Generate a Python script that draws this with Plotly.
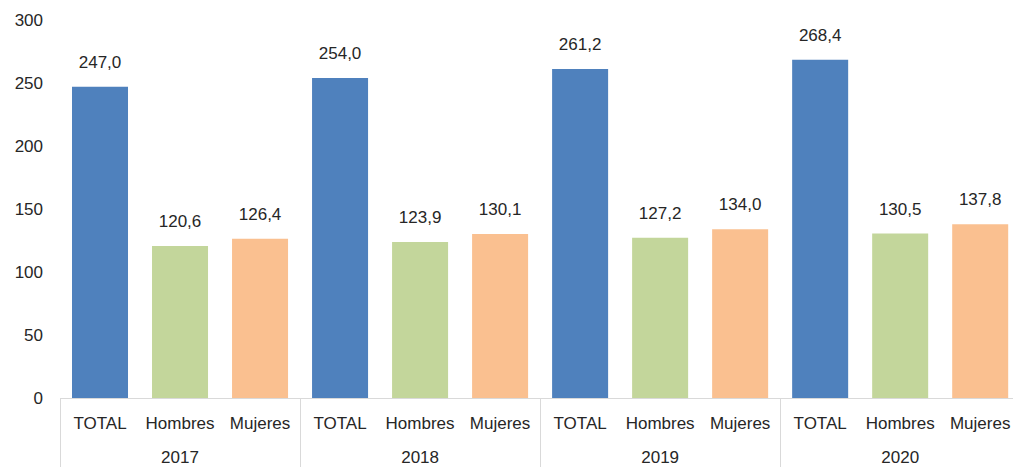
import plotly.graph_objects as go

years = ["2017", "2018", "2019", "2020"]
groups = ["TOTAL", "Hombres", "Mujeres"]
total = [247.0, 254.0, 261.2, 268.4]
hombres = [120.6, 123.9, 127.2, 130.5]
mujeres = [126.4, 130.1, 134.0, 137.8]
colors = {"TOTAL": "#4F81BD", "Hombres": "#C3D69B", "Mujeres": "#FAC090"}

series = {"TOTAL": total, "Hombres": hombres, "Mujeres": mujeres}

xy, xc, yv, cv = [], [], [], []
for i, yr in enumerate(years):
    for g in groups:
        xy.append("<br>" + yr)
        xc.append(g)
        yv.append(series[g][i])
        cv.append(colors[g])

FONT = "Liberation Sans, Arial, sans-serif"
TXT = "#262626"
FS = 17

fig = go.Figure()
fig.add_trace(go.Bar(x=[xy, xc], y=yv, marker=dict(color=cv, line=dict(width=0)),
                     hoverinfo="skip", showlegend=False))
fig.add_trace(go.Scatter(x=[xy, xc], y=yv, mode="markers+text",
                         text=[f"{v:.1f}".replace(".", ",") for v in yv],
                         textposition="top center",
                         textfont=dict(family=FONT, size=FS, color=TXT),
                         marker=dict(size=22, opacity=0),
                         hoverinfo="skip", showlegend=False, cliponaxis=False))

# page body adds an 8px margin at left/top, so the figure is offset by 8px
fig.update_layout(
    width=1005, height=468,
    margin=dict(l=52, r=0, t=12, b=78),
    paper_bgcolor="white", plot_bgcolor="white",
    bargap=0.3,
    font=dict(family=FONT, size=FS, color=TXT),
    xaxis=dict(type="multicategory", range=[-0.5, 11.41], showline=True,
               linecolor="#D9D9D9", linewidth=1, showgrid=False,
               dividercolor="#D9D9D9", dividerwidth=1,
               tickangle=0, automargin=False, ticklabelstandoff=10,
               tickfont=dict(family=FONT, size=FS, color=TXT)),
    yaxis=dict(range=[0, 300], dtick=50, showgrid=False, showline=False,
               zeroline=False, ticklabelstandoff=16, automargin=False,
               tickfont=dict(family=FONT, size=FS, color=TXT)),
)
fig.write_html("out.html")
